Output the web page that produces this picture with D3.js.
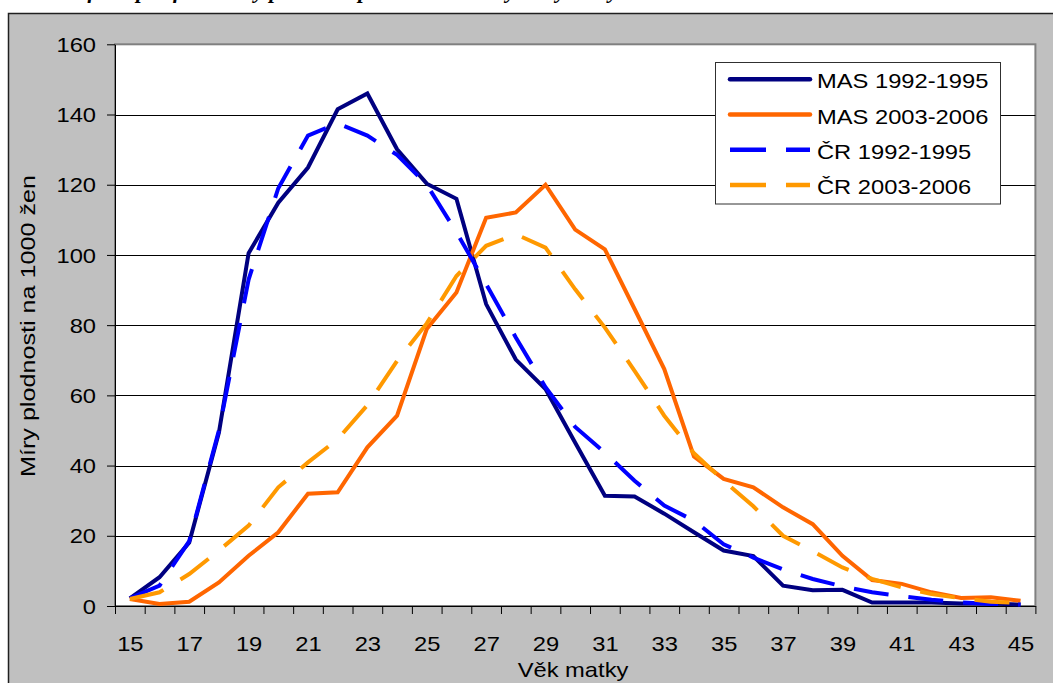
<!DOCTYPE html>
<html>
<head>
<meta charset="utf-8">
<script src="https://cdn.jsdelivr.net/npm/d3@7/dist/d3.min.js"></script>
<style>
  html, body { margin: 0; padding: 0; background: #ffffff; }
  svg { display: block; }
  text { font-family: "Liberation Sans", Arial, sans-serif; fill: #000; }
</style>
</head>
<body>
<svg id="chart" width="1053" height="683"></svg>
<script>
// Věk matky (single years)
const ages = d3.range(15, 46);

// Age-specific fertility rates per 1000 women
const mas1992 = [2.2, 8.2, 18.1, 49.4, 100.5, 114.9, 124.9, 141.5, 146.0, 130.1,
                 120.3, 116.0, 86.0, 70.2, 61.8, 46.5, 31.4, 31.2, 26.3, 21.0,
                 15.8, 14.2, 5.8, 4.5, 4.6, 1.0, 1.0, 1.0, 0.7, 0.7, 0.4];
const mas2003 = [2.0, 0.6, 1.2, 6.7, 14.3, 21.0, 32.0, 32.4, 45.2, 54.2,
                 78.9, 89.3, 110.6, 112.1, 120.0, 107.2, 101.6, 84.6, 67.5, 42.6,
                 36.2, 33.8, 28.1, 23.3, 14.3, 7.4, 6.3, 3.9, 2.3, 2.5, 1.5];
const cr1992  = [2.2, 5.8, 18.5, 50.0, 93.0, 119.0, 134.0, 137.5, 134.0, 128.5,
                 120.0, 106.5, 91.7, 76.5, 62.3, 51.0, 43.7, 35.7, 28.6, 24.3,
                 17.6, 13.8, 10.4, 7.7, 5.6, 3.9, 2.8, 1.8, 1.0, 0.6, 0.4];
const cr2003  = [2.0, 3.9, 9.1, 15.8, 22.9, 33.8, 40.9, 47.5, 57.2, 69.8,
                 80.5, 94.0, 102.6, 105.9, 102.1, 90.2, 79.3, 67.0, 54.2, 43.5,
                 35.7, 28.4, 20.0, 15.6, 11.0, 7.7, 5.3, 3.4, 2.2, 1.2, 0.9];

const seriesNames = ["MAS 1992-1995", "MAS 2003-2006", "ČR 1992-1995", "ČR 2003-2006"];
const yTicks = [0, 20, 40, 60, 80, 100, 120, 140, 160];
const xLabelAges = d3.range(15, 46, 2);

const series = [
  { name: seriesNames[0], values: mas1992, color: "#000080", dash: null },
  { name: seriesNames[1], values: mas2003, color: "#FF6600", dash: null },
  { name: seriesNames[2], values: cr1992,  color: "#0000FF", dash: "35,20" },
  { name: seriesNames[3], values: cr2003,  color: "#FF9900", dash: "35,20" }
];

const svg = d3.select("#chart");
const SX = 1.13;          // horizontal glyph stretch of the chart text
const FONT = 21;

// plot frame
const plot = { left: 115, right: 1035.4, top: 44.3, bottom: 606 };

const x = d3.scaleLinear().domain([14.5, 45.5]).range([plot.left, plot.right]);
const y = d3.scaleLinear().domain([0, 160]).range([plot.bottom, plot.top]);

// caption line above the chart (runs off the top of the page)
svg.append("text")
  .attr("x", 52).attr("y", -2)
  .style("font-family", "'Liberation Serif', 'Times New Roman', serif")
  .style("font-style", "italic").style("font-weight", "bold")
  .style("font-size", "22px")
  .text("Graf 4: Specifické míry plodnosti podle věku matky ve vybraných obdobích");

// chart area
svg.append("rect")
  .attr("x", 8.5).attr("y", 13.5)
  .attr("width", 1070).attr("height", 700)
  .attr("fill", "#C0C0C0").attr("stroke", "#202020").attr("stroke-width", 1.5);

// plot area
svg.append("rect")
  .attr("x", plot.left).attr("y", plot.top)
  .attr("width", plot.right - plot.left).attr("height", plot.bottom - plot.top)
  .attr("fill", "#FFFFFF").attr("stroke", "#808080").attr("stroke-width", 2);

// horizontal gridlines
svg.append("g")
  .selectAll("line")
  .data(yTicks.filter(d => d > 0 && d < 160))
  .join("line")
  .attr("x1", plot.left).attr("x2", plot.right)
  .attr("y1", d => Math.round(y(d)) + 0.5).attr("y2", d => Math.round(y(d)) + 0.5)
  .attr("stroke", "#000").attr("stroke-width", 1);

// y axis
const yAxis = svg.append("g")
  .attr("transform", `translate(${plot.left},0)`)
  .call(d3.axisLeft(y).tickValues(yTicks).tickSize(8).tickSizeOuter(0).tickPadding(0));
yAxis.select(".domain").attr("stroke", "#000");
yAxis.selectAll(".tick line").attr("stroke", "#000");
yAxis.selectAll(".tick text")
  .attr("x", -19 / SX).attr("dy", "0.34em")
  .attr("transform", `scale(${SX},1)`)
  .style("font-size", FONT + "px")
  .style("font-family", "'Liberation Sans', Arial, sans-serif");

// x axis: tick marks on category boundaries
const xAxis = svg.append("g")
  .attr("transform", `translate(0,${plot.bottom})`)
  .call(d3.axisBottom(x).tickValues(d3.range(14.5, 46, 1)).tickSize(8).tickSizeOuter(0).tickFormat(""));
xAxis.select(".domain").attr("stroke", "#000");
xAxis.selectAll(".tick line").attr("stroke", "#000");

// x axis: labels on every second age
const xLab = svg.append("g")
  .attr("transform", `translate(0,${plot.bottom})`)
  .call(d3.axisBottom(x).tickValues(xLabelAges).tickSize(0).tickFormat(d3.format("d")));
xLab.select(".domain").remove();
xLab.selectAll(".tick text")
  .attr("y", 45.5).attr("dy", 0)
  .attr("transform", `scale(${SX},1)`)
  .style("font-size", FONT + "px")
  .style("font-family", "'Liberation Sans', Arial, sans-serif");

// series lines
const line = d3.line()
  .x((d, i) => x(ages[i]))
  .y(d => y(d));

svg.append("g")
  .selectAll("path")
  .data(series)
  .join("path")
  .attr("d", d => line(d.values))
  .attr("fill", "none")
  .attr("stroke", d => d.color)
  .attr("stroke-width", 4)
  .attr("stroke-linejoin", "miter")
  .attr("stroke-dasharray", d => d.dash);

// axis titles
svg.append("text")
  .attr("transform", `translate(573,676.7) scale(${SX},1)`)
  .attr("text-anchor", "middle")
  .style("font-size", FONT + "px")
  .text("Věk matky");

svg.append("text")
  .attr("transform", "translate(35,326) rotate(-90)")
  .attr("text-anchor", "middle")
  .attr("textLength", 302)
  .attr("lengthAdjust", "spacingAndGlyphs")
  .style("font-size", FONT + "px")
  .text("Míry plodnosti na 1000 žen");

// legend
const legend = svg.append("g");
legend.append("rect")
  .attr("x", 715.5).attr("y", 62.5)
  .attr("width", 285).attr("height", 141.5)
  .attr("fill", "#FFFFFF").attr("stroke", "#303030").attr("stroke-width", 1);

const rowY = d3.scaleLinear().domain([0, 3]).range([79.3, 185]);
const rows = legend.selectAll("g.row")
  .data(series)
  .join("g")
  .attr("class", "row")
  .attr("transform", (d, i) => `translate(0,${rowY(i)})`);

rows.append("line")
  .attr("x1", 730).attr("x2", 810)
  .attr("y1", 0).attr("y2", 0)
  .attr("stroke", d => d.color)
  .attr("stroke-width", 4.5)
  .attr("stroke-linecap", d => d.dash ? "butt" : "round")
  .attr("stroke-dasharray", d => d.dash ? "36,20" : null);

rows.append("text")
  .attr("transform", `translate(817,9) scale(${SX},1)`)
  .style("font-size", FONT + "px")
  .text(d => d.name);
</script>
</body>
</html>
